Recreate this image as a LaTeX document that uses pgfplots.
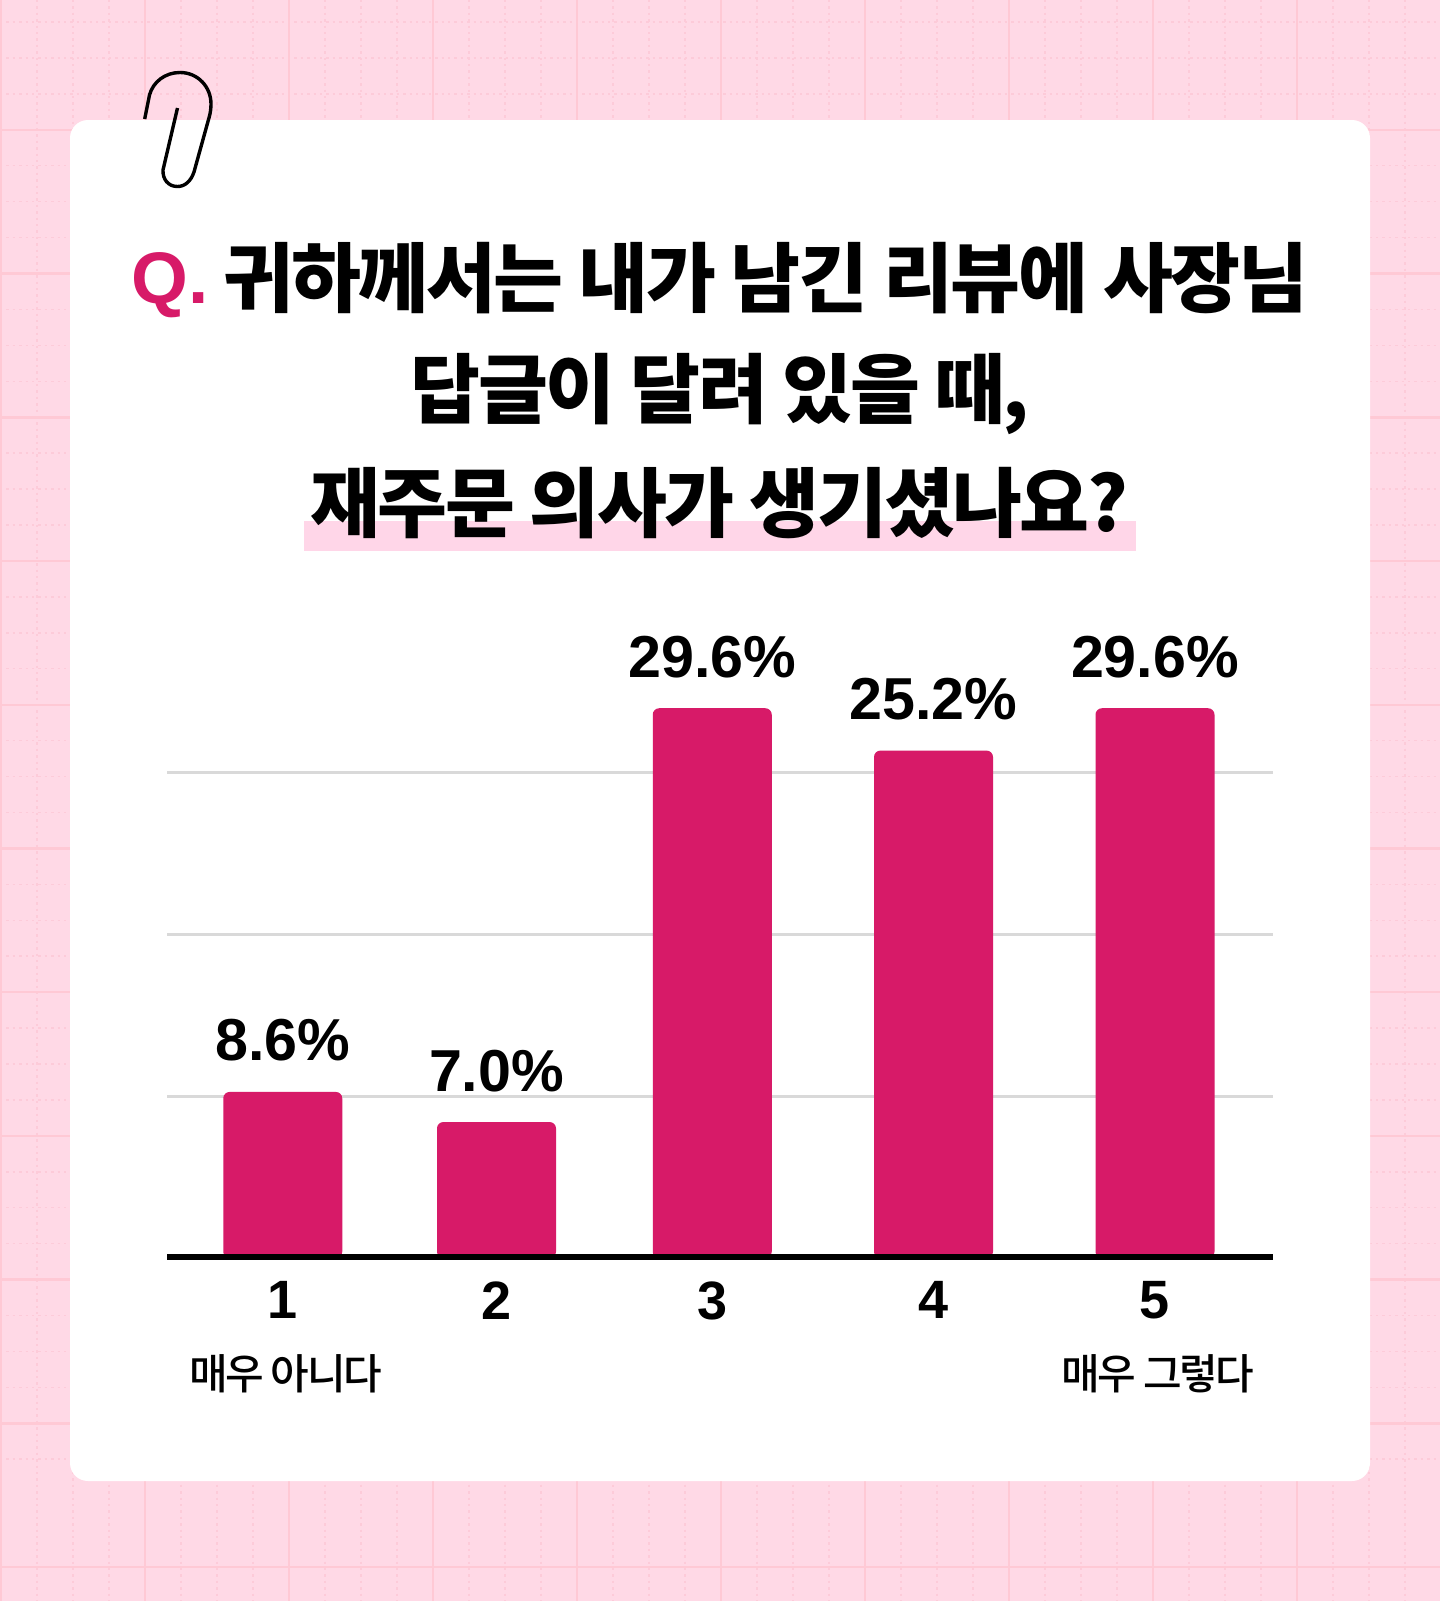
\documentclass[border=0pt]{standalone}
\usepackage{fontspec}
\usepackage{pgfplots}
\usepackage{pgfplotstable}
\pgfplotsset{compat=1.18}
\setmainfont{Liberation Sans}
\newfontfamily\numfont{Liberation Sans}[BoldFont={Liberation Sans Bold}]
\newfontfamily\titlefont{Noto Sans CJK KR}[LetterSpace=-3.2]
\newfontfamily\subfont{Noto Sans CJK KR Medium}[LetterSpace=-6]
\definecolor{bgpink}{HTML}{FFD9E6}
\definecolor{thickline}{HTML}{FFC9D5}
\definecolor{dotline}{HTML}{FDCBD9}
\definecolor{barcol}{HTML}{D71A68}
\definecolor{hilite}{HTML}{FFD6E8}
\definecolor{gridcol}{HTML}{D9D9D9}
% px, bar height (axis units), printed label
\pgfplotstableread{
x      h      lab
282.75 10.27  8.6
496.5  8.41   7.0
712.25 34.00  29.6
933.5  31.38  25.2
1155   34.00  29.6
}\chartdata
\begin{document}
\begin{tikzpicture}
\begin{scope}[x=0.5pt,y=-0.5pt]
\path[use as bounding box] (0,0) rectangle (1440,1601);
\clip (0,0) rectangle (1440,1601);
\fill[bgpink] (0,0) rectangle (1440,1601);
\begin{scope}[dotline,line width=0.75pt,dash pattern=on 1.2pt off 2pt]
\foreach \k in {0,...,40} {
  \draw (1+36*\k,0) -- (1+36*\k,1601);
  \draw (0,22+35.93*\k) -- (1440,22+35.93*\k);
}
\end{scope}
\begin{scope}[thickline,line width=1.25pt]
\foreach \k in {0,...,10} {
  \draw (1+144*\k,0) -- (1+144*\k,1601);
  \draw (0,130+143.7*\k) -- (1440,130+143.7*\k);
}
\end{scope}
\fill[white,rounded corners=9pt] (70,120) rectangle (1370,1481);
\draw[black,line width=1.7pt,line cap=butt]
  (144.7,119) -- (149.5,95) .. controls (153,82) and (165,72.5) .. (180,72.5)
  .. controls (198,72.5) and (211,87) .. (211,104) .. controls (211,108) and (210.5,112) .. (209.5,116)
  -- (194,172) .. controls (191,181) and (185,186.5) .. (177.5,186.5)
  .. controls (168,186.5) and (162.5,179) .. (163,170) -- (177.5,108);
\fill[hilite] (303.5,521) rectangle (1136,551);
\node[anchor=base,inner sep=0pt,font=\titlefont\bfseries\fontsize{38pt}{42pt}\selectfont] at (720,306)
  {\raisebox{1.5pt}{\color{barcol}\numfont\bfseries\fontsize{36.5pt}{40pt}\selectfont Q.} 귀하께서는 내가 남긴 리뷰에 사장님};
\node[anchor=base,inner sep=0pt,font=\titlefont\bfseries\fontsize{38pt}{42pt}\selectfont] at (720,417)
  {답글이 달려 있을 때,};
\node[anchor=base,inner sep=0pt,font=\titlefont\bfseries\fontsize{38pt}{42pt}\selectfont] at (719,531)
  {재주문 의사가 생기셨나요?};
\end{scope}
\begin{axis}[
  at={(83.5pt,-629pt)},anchor=south west,
  scale only axis,width=553pt,height=291.06pt,
  xmin=167,xmax=1273,ymin=0,ymax=36,
  clip=false,
  axis line style={draw=none},
  major tick length=0pt,
  ymajorgrids,
  grid style={gridcol,line width=1.5pt},
  ytick={10,20,30},yticklabels={},
  xtick={282.75,496.5,712.25,933.5,1155},
  xticklabels={1,2,3,4,5},
  xticklabel style={font=\numfont\bfseries\fontsize{27pt}{30pt}\selectfont,inner sep=0pt,yshift=-11.5pt},
  ybar,
  bar width=59.5pt,
  bar shift=0pt,
  nodes near coords={\pgfplotspointmeta\%},
  point meta=explicit symbolic,
  every node near coord/.style={font=\numfont\bfseries\fontsize{29.6pt}{32pt}\selectfont,text=black,inner sep=0pt,anchor=south,yshift=15pt},
]
\addplot[fill=barcol,draw=none,rounded corners=3.2pt] table[x=x,y=h,meta=lab] {\chartdata};
\draw[black,line width=3pt] (axis cs:167,0.09) -- (axis cs:1273,0.09);
\node[font=\subfont\fontsize{21pt}{24pt}\selectfont,anchor=base,inner sep=0pt] at (axis cs:285.5,-8.15) {매우 아니다};
\node[font=\subfont\fontsize{21pt}{24pt}\selectfont,anchor=base,inner sep=0pt] at (axis cs:1158,-8.15) {매우 그렇다};
\end{axis}
\end{tikzpicture}
\end{document}
